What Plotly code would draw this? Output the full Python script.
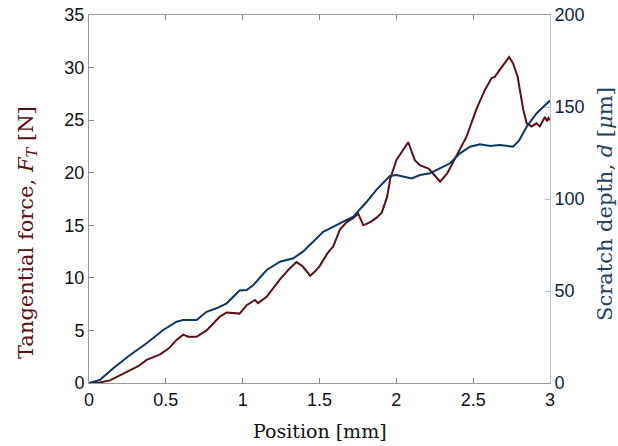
import plotly.graph_objects as go

pos_force = [0, 0.07, 0.137, 0.2, 0.267, 0.32, 0.375, 0.46, 0.52, 0.57, 0.613, 0.646, 0.70, 0.765,
             0.85, 0.895, 0.98, 1.026, 1.08, 1.10, 1.156, 1.24, 1.30, 1.35, 1.39, 1.44, 1.47, 1.50,
             1.55, 1.59, 1.633, 1.677, 1.72, 1.752, 1.785, 1.83, 1.87, 1.905, 1.94, 1.96, 2.0, 2.045,
             2.077, 2.09, 2.12, 2.155, 2.21, 2.24, 2.285, 2.33, 2.39, 2.456, 2.52, 2.577, 2.62, 2.64,
             2.674, 2.706, 2.734, 2.76, 2.79, 2.80, 2.826, 2.848, 2.88, 2.913, 2.934, 2.967, 2.98, 2.99, 3.0]
force = [0, 0.05, 0.25, 0.7, 1.2, 1.6, 2.2, 2.7, 3.3, 4.1, 4.6, 4.4, 4.4, 5.0,
         6.3, 6.7, 6.6, 7.4, 7.9, 7.6, 8.2, 9.8, 10.8, 11.5, 11.1, 10.2, 10.6, 11.1,
         12.3, 13.0, 14.6, 15.3, 15.7, 16.1, 15.0, 15.3, 15.7, 16.2, 17.7, 19.4, 21.2, 22.2,
         22.9, 22.4, 21.2, 20.7, 20.4, 19.9, 19.15, 19.9, 21.5, 23.4, 26.0, 27.9, 29.0, 29.1,
         29.8, 30.4, 31.0, 30.4, 29.1, 28.2, 26.0, 24.7, 24.4, 24.7, 24.4, 25.3, 24.9, 25.2, 25.0]

pos_depth = [0, 0.07, 0.158, 0.267, 0.375, 0.483, 0.57, 0.613, 0.70, 0.765, 0.83, 0.896, 0.98,
             1.026, 1.07, 1.156, 1.243, 1.33, 1.394, 1.503, 1.524, 1.655, 1.72, 1.807, 1.87, 1.958,
             2.0, 2.1, 2.154, 2.22, 2.284, 2.35, 2.414, 2.48, 2.544, 2.61, 2.674, 2.76, 2.80, 2.848,
             2.913, 2.99, 3.0]
depth = [0, 1.6, 8, 15.2, 21.6, 28.8, 33.3, 34.2, 34.2, 38.7, 40.6, 43.3, 50.3,
         50.5, 53.3, 61.4, 65.9, 67.8, 71.5, 80.4, 82.2, 87.7, 90.4, 98.5, 105, 112.5,
         113, 111.2, 113, 114, 116.7, 119.4, 124.8, 128.4, 129.7, 128.8, 129.3, 128.4, 132, 139.3,
         146.6, 152.9, 153.5]

x_ticks = [0, 0.5, 1, 1.5, 2, 2.5, 3]
x_tick_labels = ["0", "0.5", "1", "1.5", "2", "2.5", "3"]
force_ticks = [0, 5, 10, 15, 20, 25, 30, 35]
depth_ticks = [0, 50, 100, 150, 200]

x_title = "Position [mm]"
force_title = "Tangential force, <i>F</i><sub><i>T</i></sub> [N]"
depth_title = "Scratch depth, <i>d</i> [<i>μ</i>m]"

red = "#5c0f14"
blue = "#0d3766"
sans = "Liberation Sans, Arial, sans-serif"
serif = "DejaVu Serif, Liberation Serif, serif"
tick_font = dict(family=sans, size=18, color="#111111")

fig = go.Figure()
fig.add_trace(go.Scatter(x=pos_force, y=force, mode="lines",
                         line=dict(color=red, width=2), yaxis="y", showlegend=False))
fig.add_trace(go.Scatter(x=pos_depth, y=depth, mode="lines",
                         line=dict(color=blue, width=2), yaxis="y2", showlegend=False))

fig.update_layout(
    width=618, height=446,
    margin=dict(l=89, r=68, t=15, b=63, autoexpand=False),
    paper_bgcolor="white", plot_bgcolor="white",
    xaxis=dict(range=[0, 3], tickvals=x_ticks, ticktext=x_tick_labels, automargin=False,
               ticks="inside", ticklen=5, tickcolor="#888888",
               showline=True, linecolor="#9a9a9a", linewidth=1, mirror="ticks",
               showgrid=False, zeroline=False, tickfont=tick_font),
    yaxis=dict(range=[0, 35], tickvals=force_ticks, ticks="inside", ticklen=5, tickcolor="#888888",
               showline=True, linecolor="#9a9a9a", linewidth=1, automargin=False,
               showgrid=False, zeroline=False, tickfont=tick_font),
    yaxis2=dict(range=[0, 200], tickvals=depth_ticks, ticks="inside", ticklen=5, tickcolor="#a9bfd0",
                overlaying="y", side="right", showline=True, linecolor="#b3c7d6", linewidth=1,
                showgrid=False, zeroline=False, automargin=False,
                tickfont=dict(family=sans, size=18, color="#0b2440")),
    annotations=[
        dict(text=x_title, xref="paper", yref="paper", x=0.5, y=-0.1304,
             xanchor="center", yanchor="middle", showarrow=False,
             font=dict(family=serif, size=19, color="#111111")),
        dict(text=force_title, xref="paper", yref="paper", x=-0.1345, y=0.4103,
             xanchor="center", yanchor="middle", showarrow=False, textangle=-90,
             font=dict(family=serif, size=21, color=red)),
        dict(text=depth_title, xref="paper", yref="paper", x=1.1193, y=0.4864,
             xanchor="center", yanchor="middle", showarrow=False, textangle=-90,
             font=dict(family=serif, size=21, color="#1a3f60")),
    ],
)

fig.write_html("out.html", config={"displayModeBar": False},
               post_script="document.body.style.margin='0';document.body.style.overflow='hidden';")
